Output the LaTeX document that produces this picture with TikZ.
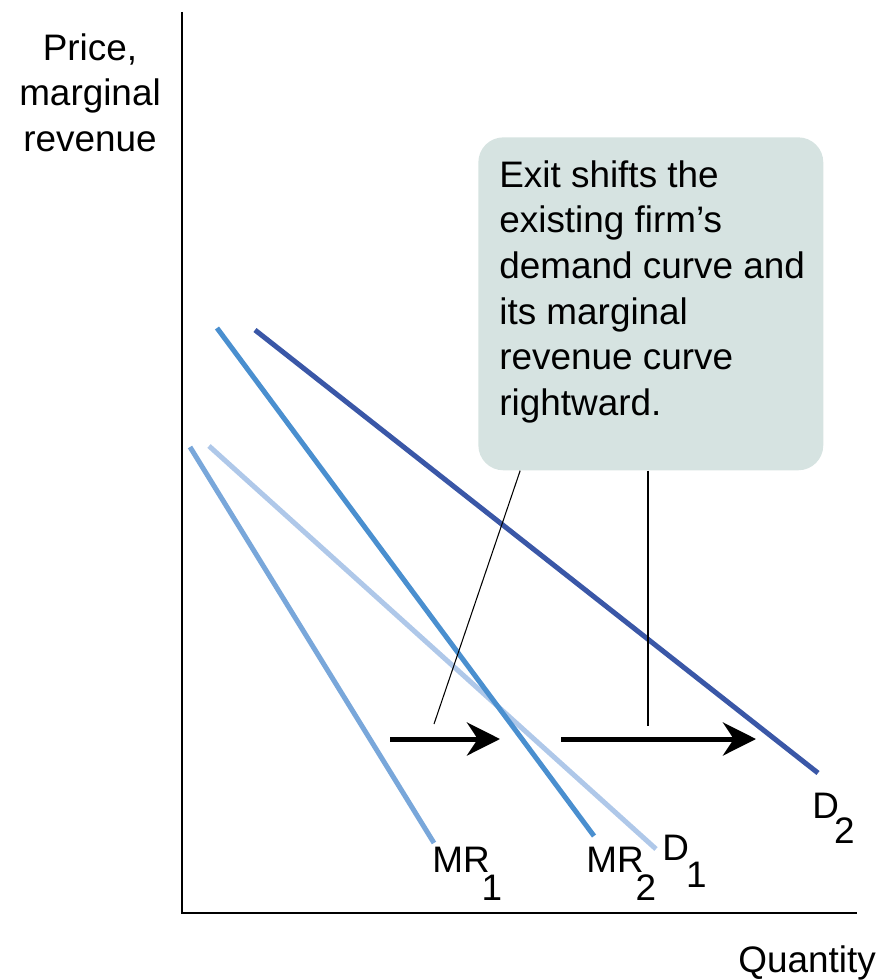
\documentclass[tikz,border=0pt]{standalone}
\usepackage{fontspec}
\setmainfont{Liberation Sans}
\usetikzlibrary{arrows.meta,calc}
\definecolor{dtwo}{HTML}{3A57A7}
\definecolor{mrtwo}{HTML}{4A8FCF}
\definecolor{done}{HTML}{AFC8E9}
\definecolor{mrone}{HTML}{79A7DA}
\definecolor{notefill}{HTML}{D6E3E1}
\tikzset{
  curve/.style={line width=2.85pt},
  shift arrow/.style={line width=2.85pt, -{Stealth[length=0.66cm,width=0.66cm]}},
  label/.style={inner sep=0pt, font=\fontsize{21}{26}\selectfont},
  pointer/.style={line width=0.6pt}
}
\begin{document}
\begin{tikzpicture}[x=0.02cm,y=-0.02cm]
    \useasboundingbox (0,0) rectangle (893,980);
    \draw [line width=0.85pt] (182,12) -- (182,913) -- (857,913);

    \node [label, anchor=north, align=center] (price) at (90,33) {Price,\\marginal\\revenue};
    \node [label, anchor=base west] (quantity) at (738,972) {Quantity};

    \coordinate (mr1top) at (190,447);
    \coordinate (mr1bot) at (434,843);
    \coordinate (d1top) at (209,446);
    \coordinate (d1bot) at (656,849);
    \coordinate (mr2top) at (217,328);
    \coordinate (mr2bot) at (594,836);
    \coordinate (d2top) at (255,330);
    \coordinate (d2bot) at (818,773);

    \draw [curve, color=mrone] (mr1top) -- (mr1bot);
    \draw [curve, color=done] (d1top) -- (d1bot);
    \draw [curve, color=mrtwo] (mr2top) -- (mr2bot);
    \draw [curve, color=dtwo] (d2top) -- (d2bot);

    \node [label, anchor=base west] (mr1) at (432,872) {MR\kern-0.16cm\raisebox{-0.56cm}{1}};
    \node [label, anchor=base west] (mr2) at (586,872) {MR\kern-0.16cm\raisebox{-0.56cm}{2}};
    \node [label, anchor=base west] (d1) at (662,860) {D\kern-0.06cm\raisebox{-0.54cm}{1}};
    \node [label, anchor=base west] (d2) at (812,818) {D\kern-0.1cm\raisebox{-0.5cm}{2}};

    \node [fill=notefill, rounded corners=0.5cm, minimum width=6.9cm, minimum height=6.66cm,
           inner sep=0pt, anchor=north west] (box) at (478,137) {};
    \node [label, anchor=north west, align=left] (note) at (499,160)
        {Exit shifts the\\existing firm’s\\demand curve and\\its marginal\\revenue curve\\rightward.};

    \coordinate (mr1from) at (390,739);
    \coordinate (mr1to) at (500,739);
    \coordinate (d1from) at (561,739);
    \coordinate (d1to) at (756,739);
    \draw [shift arrow] (mr1from) -- (mr1to);
    \draw [shift arrow] (d1from) -- (d1to);

    \coordinate (tipa) at (434,724);
    \coordinate (tipb) at (648,726);
    \draw [pointer] ($(box.south west)!0.122!(box.south east)$) -- (tipa);
    \draw [pointer] (box.south -| tipb) -- (tipb);
  \end{tikzpicture}
\end{document}
